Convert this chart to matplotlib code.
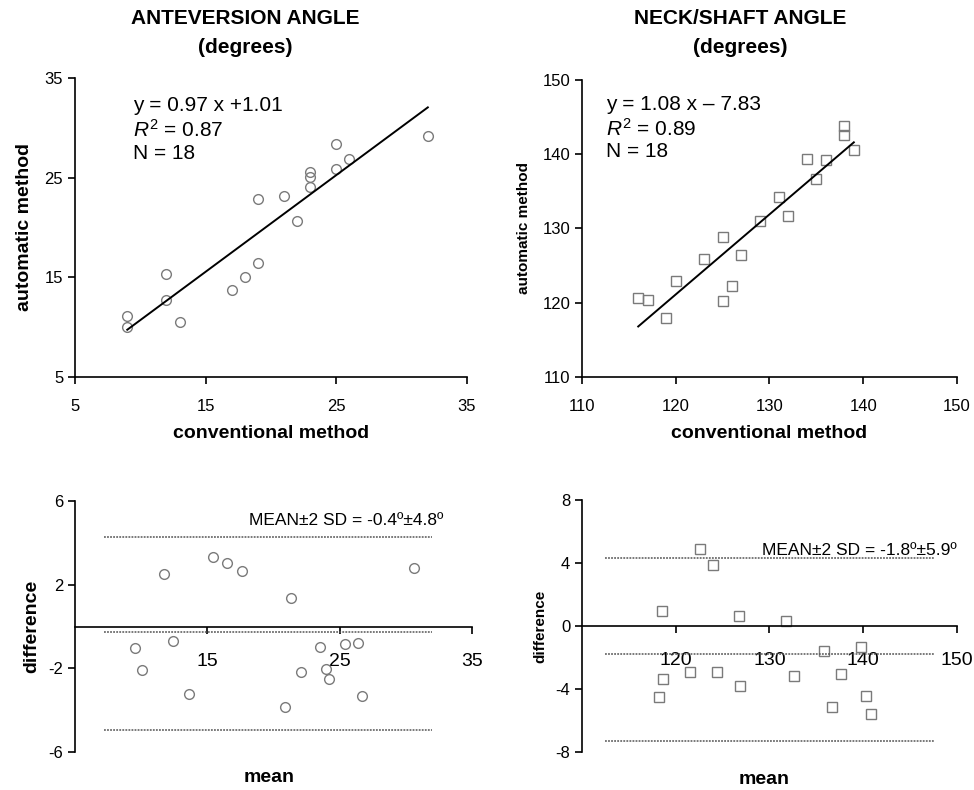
import matplotlib.pyplot as plt

plt.rcParams['font.family'] = ['Liberation Sans', 'DejaVu Sans']
plt.rcParams['axes.unicode_minus'] = False
plt.rcParams['mathtext.fontset'] = 'custom'
plt.rcParams['mathtext.rm'] = 'Liberation Sans'
plt.rcParams['mathtext.it'] = 'Liberation Sans:italic'

# --- anteversion: conventional vs automatic
ant_conv = [9, 9, 12, 12, 13, 17, 18, 19, 19, 21, 22, 23, 23, 23, 25, 25, 26, 32]
ant_auto = [11.1, 10.0, 15.3, 12.7, 10.5, 13.7, 15.0, 16.4, 22.9, 23.2, 20.7,
            25.6, 25.1, 24.1, 28.4, 25.9, 26.9, 29.2]
ant_fit_x = [9, 32]
ant_slope, ant_icpt = 0.97, 1.01

# --- neck/shaft: conventional vs automatic
ns_conv = [116, 117, 119, 120, 123, 125, 125, 126, 127, 129, 131, 132, 134, 135,
           136, 138, 138, 139]
ns_auto = [120.6, 120.4, 118.0, 122.9, 125.9, 128.8, 120.2, 122.2, 126.4, 131.0,
           134.3, 131.7, 139.3, 136.7, 139.2, 143.8, 142.6, 140.5]
ns_fit_x = [116, 139]
ns_fit_y = [116.8, 141.6]

# --- Bland-Altman, anteversion
ba_ant_mean = [15.4, 16.5, 17.6, 11.7, 30.6, 21.3, 9.5, 12.4, 10.1, 13.6, 20.9,
               22.1, 23.5, 24.0, 24.2, 25.4, 26.4, 26.7]
ba_ant_diff = [3.33, 3.06, 2.68, 2.52, 2.81, 1.37, -1.0, -0.68, -2.08, -3.22,
               -3.84, -2.16, -0.97, -2.05, -2.49, -0.84, -0.78, -3.33]
ba_ant_lines = [4.3, -0.27, -4.95]
ba_ant_span = [7.2, 32.0]

# --- Bland-Altman, neck/shaft
ba_ns_mean = [122.6, 124.0, 118.5, 126.7, 131.8, 135.8, 139.8, 118.6, 118.2,
              121.5, 124.4, 126.9, 132.6, 137.6, 136.7, 140.3, 140.8]
ba_ns_diff = [4.89, 3.89, 0.93, 0.66, 0.34, -1.59, -1.31, -3.39, -4.49, -2.90,
              -2.90, -3.81, -3.17, -3.05, -5.16, -4.47, -5.61]
ba_ns_lines = [4.3, -1.8, -7.3]
ba_ns_span = [112.5, 147.7]

fig = plt.figure(figsize=(9.74, 7.9), dpi=100)
ax1 = fig.add_axes([0.077, 0.5228, 0.4025, 0.3785])
ax2 = fig.add_axes([0.5975, 0.5228, 0.385, 0.376])
ax3 = fig.add_axes([0.077, 0.048, 0.4076, 0.3177])
ax4 = fig.add_axes([0.5975, 0.048, 0.385, 0.319])

mk_col = '#7a7a7a'
dash_col = '#555555'


def style(ax):
    for s in ['top', 'right']:
        ax.spines[s].set_visible(False)
    for s in ['left', 'bottom']:
        ax.spines[s].set_linewidth(1.2)
    ax.tick_params(direction='out', length=5, width=1.2, labelsize=12)


# titles
fig.text(0.252, 0.976, 'ANTEVERSION ANGLE', ha='center', va='center', fontsize=15, fontweight='bold')
fig.text(0.252, 0.940, '(degrees)', ha='center', va='center', fontsize=15, fontweight='bold')
fig.text(0.760, 0.976, 'NECK/SHAFT ANGLE', ha='center', va='center', fontsize=15, fontweight='bold')
fig.text(0.760, 0.940, '(degrees)', ha='center', va='center', fontsize=15, fontweight='bold')

# top left
style(ax1)
ax1.plot(ant_conv, ant_auto, 'o', mfc='none', mec=mk_col, ms=7, mew=1)
ax1.plot(ant_fit_x, [ant_slope * x + ant_icpt for x in ant_fit_x], color='black', lw=1.4)
ax1.set_xlim(5, 35)
ax1.set_ylim(5, 35)
ax1.set_xticks([5, 15, 25, 35])
ax1.set_yticks([5, 15, 25, 35])
ax1.tick_params(axis='x', pad=11)
ax1.set_xlabel('conventional method', fontsize=14, fontweight='bold', labelpad=8)
ax1.set_ylabel('automatic method', fontsize=14, fontweight='bold', labelpad=8)
ax1.text(0.148, 0.828, 'y = 0.97 x +1.01\n$R^2$ = 0.87\nN = 18', transform=ax1.transAxes,
         fontsize=15, va='center', linespacing=1.2)

# top right
style(ax2)
ax2.plot(ns_conv, ns_auto, 's', mfc='none', mec=mk_col, ms=6.5, mew=1)
ax2.plot(ns_fit_x, ns_fit_y, color='black', lw=1.4)
ax2.set_xlim(110, 150)
ax2.set_ylim(110, 150)
ax2.set_xticks([110, 120, 130, 140, 150])
ax2.set_yticks([110, 120, 130, 140, 150])
ax2.tick_params(axis='x', pad=11)
ax2.set_xlabel('conventional method', fontsize=14, fontweight='bold', labelpad=8)
ax2.set_ylabel('automatic method', fontsize=11, fontweight='bold', labelpad=8)
ax2.text(0.065, 0.838, 'y = 1.08 x \u2013 7.83\n$R^2$ = 0.89\nN = 18', transform=ax2.transAxes,
         fontsize=15, va='center', linespacing=1.2)

# bottom left
style(ax3)
ax3.spines['bottom'].set_position(('data', 0))
ax3.plot(ba_ant_mean, ba_ant_diff, 'o', mfc='none', mec=mk_col, ms=7, mew=1)
for yv in ba_ant_lines:
    ax3.plot(ba_ant_span, [yv, yv], color=dash_col, lw=1.1, ls=(0, (1.2, 0.8)))
ax3.set_xlim(5, 35)
ax3.set_ylim(-6, 6)
ax3.set_xticks([15, 25, 35])
ax3.set_yticks([6, 2, -2, -6])
ax3.tick_params(axis='x', pad=14, labelsize=14)
ax3.text(0.927, 0.924, 'MEAN\u00b12 SD = -0.4\u00ba\u00b14.8\u00ba', transform=ax3.transAxes,
         ha='right', va='center', fontsize=12.5)
ax3.set_ylabel('difference', fontsize=14, fontweight='bold', labelpad=6)
ax3.text(0.49, -0.1, 'mean', transform=ax3.transAxes, ha='center', va='center',
         fontsize=14, fontweight='bold')

# bottom right
style(ax4)
ax4.spines['bottom'].set_position(('data', 0))
ax4.plot(ba_ns_mean, ba_ns_diff, 's', mfc='none', mec=mk_col, ms=6.5, mew=1)
for yv in ba_ns_lines:
    ax4.plot(ba_ns_span, [yv, yv], color=dash_col, lw=1.1, ls=(0, (1.2, 0.8)))
ax4.set_xlim(110, 150)
ax4.set_ylim(-8, 8)
ax4.set_xticks([120, 130, 140, 150])
ax4.set_yticks([8, 4, 0, -4, -8])
ax4.tick_params(axis='x', pad=14, labelsize=14)
ax4.text(1.0, 0.80, 'MEAN\u00b12 SD = -1.8\u00ba\u00b15.9\u00ba', transform=ax4.transAxes,
         ha='right', va='center', fontsize=12.5)
ax4.set_ylabel('difference', fontsize=11, fontweight='bold', labelpad=6)
ax4.text(0.485, -0.11, 'mean', transform=ax4.transAxes, ha='center', va='center',
         fontsize=14, fontweight='bold')

fig.savefig('out.png', dpi=100)
